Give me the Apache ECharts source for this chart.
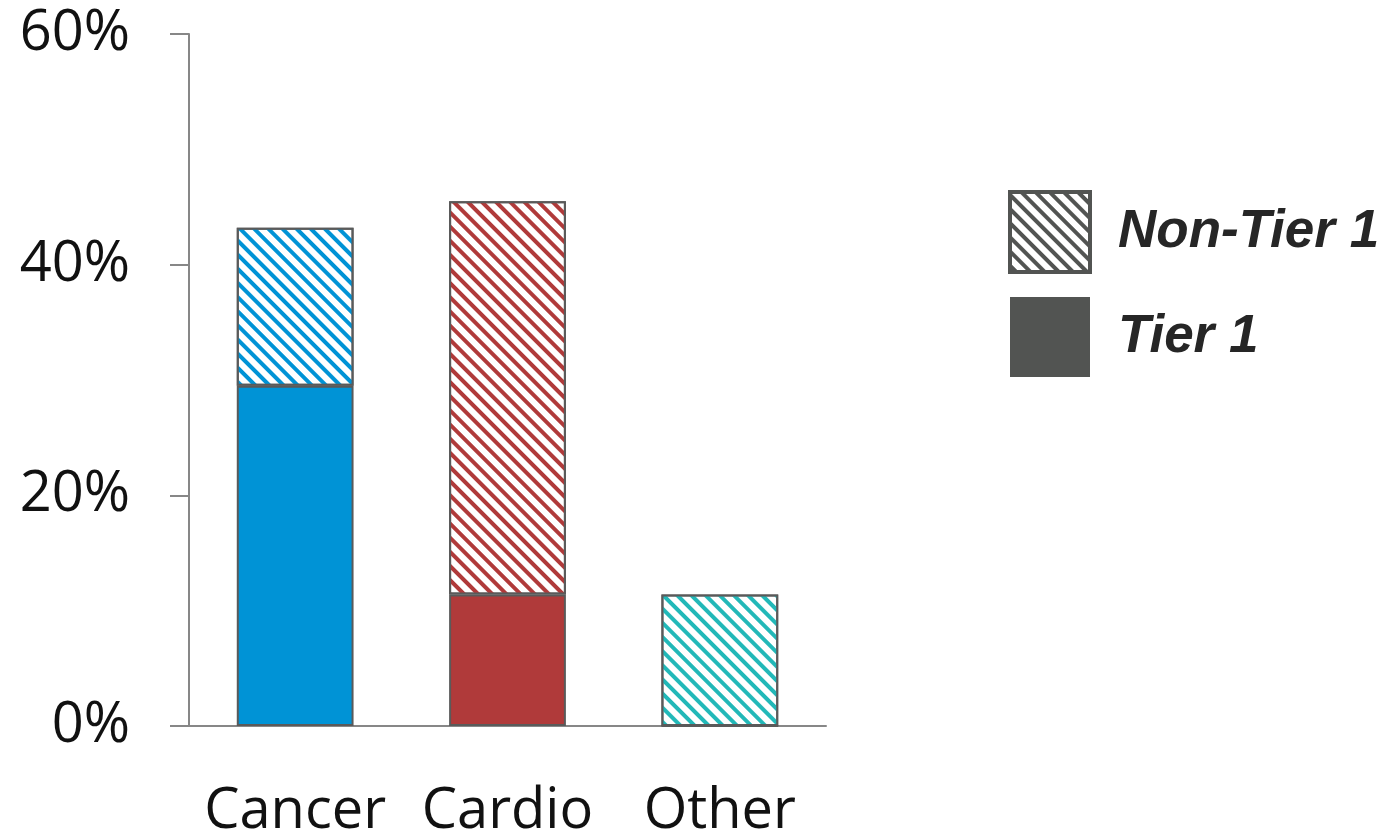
<!DOCTYPE html>
<html>
<head>
<meta charset="utf-8">
<style>
  html, body { margin: 0; padding: 0; background: #fff; }
  #chart { width: 1387px; height: 835px; }
</style>
<script src="https://cdn.jsdelivr.net/npm/echarts@6/dist/echarts.min.js"></script>
</head>
<body>
<div id="chart"></div>
<script>
// Share of programmes by therapeutic area, split by tier
const categories = ['Cancer', 'Cardio', 'Other'];
const tier1 = [29.5, 11.4, 0];
const nonTier1 = [13.7, 34.1, 11.4];
const areaColors = ['#0093D6', '#B03A3A', '#22B8B8'];
const yTicks = [0, 20, 40, 60];

const BORDER = '#5a5a5a';
const LEGEND_GREY = '#525452';

// Diagonal hatching running from top-left to bottom-right
function stripes(color) {
  return {
    symbol: 'rect',
    symbolSize: 1,
    dashArrayX: [1, 0],
    dashArrayY: [4, 6],
    rotation: Math.PI / 4,
    color: color
  };
}

const chart = echarts.init(document.getElementById('chart'), null, { renderer: 'canvas' });

chart.setOption({
  animation: false,
  grid: { left: 189, right: 561, top: 34, bottom: 109, outerBoundsMode: 'none', containLabel: false },
  legend: {
    orient: 'vertical',
    left: 1003,
    top: 185,
    itemWidth: 80,
    itemHeight: 80,
    itemGap: 23,
    icon: 'rect',
    textStyle: {
      fontFamily: 'Liberation Sans',
      fontWeight: 'bold',
      fontStyle: 'italic',
      fontSize: 53,
      color: '#262626',
      padding: [0, 0, 0, 23]
    },
    data: [
      { name: 'Non-Tier 1', itemStyle: { borderColor: LEGEND_GREY, borderWidth: 4 } },
      { name: 'Tier 1' }
    ],
    selectedMode: false
  },
  xAxis: {
    type: 'category',
    data: categories,
    axisLine: { lineStyle: { color: '#878787', width: 2 } },
    axisTick: { show: false },
    axisLabel: {
      interval: 0,
      hideOverlap: false,
      margin: 58,
      fontFamily: 'Open Sans',
      fontSize: 56,
      color: '#111'
    }
  },
  yAxis: {
    type: 'value',
    min: 0,
    max: 60,
    interval: 20,
    axisLine: { show: true, lineStyle: { color: '#878787', width: 2 } },
    axisTick: { show: true, length: 19, lineStyle: { color: '#878787', width: 2 } },
    splitLine: { show: false },
    axisLabel: {
      margin: 59,
      fontFamily: 'Open Sans',
      fontSize: 56,
      color: '#111',
      formatter: v => (yTicks.indexOf(v) >= 0 ? v + '%' : '')
    }
  },
  series: [
    {
      name: 'Tier 1',
      type: 'bar',
      stack: 'total',
      barWidth: '55%',
      itemStyle: { color: LEGEND_GREY, borderColor: LEGEND_GREY, borderWidth: 0 },
      data: tier1.map((v, i) => ({
        value: v,
        itemStyle: { color: areaColors[i], borderColor: BORDER, borderWidth: 2 }
      }))
    },
    {
      name: 'Non-Tier 1',
      type: 'bar',
      stack: 'total',
      barWidth: '55%',
      itemStyle: {
        color: '#ffffff',
        borderColor: LEGEND_GREY,
        borderWidth: 4,
        decal: stripes(LEGEND_GREY)
      },
      data: nonTier1.map((v, i) => ({
        value: v,
        itemStyle: {
          color: '#ffffff',
          borderColor: BORDER,
          borderWidth: 2,
          decal: stripes(areaColors[i])
        }
      }))
    }
  ]
});
</script>
</body>
</html>
